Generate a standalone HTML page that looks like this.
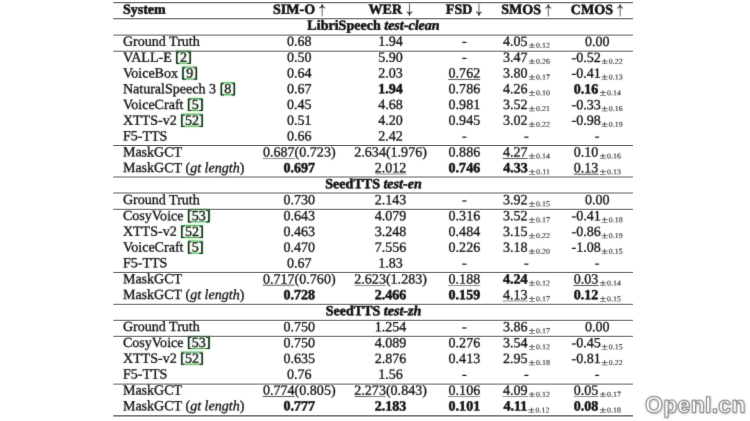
<!DOCTYPE html>
<html><head><meta charset="utf-8"><title>Table</title>
<style>
html,body{margin:0;padding:0;background:#fff;}
body{width:750px;height:421px;overflow:hidden;position:relative;font-family:"Liberation Serif",serif;font-size:14.06px;color:#111;}
#wrap{position:absolute;left:0;top:0;width:750px;height:421px;overflow:hidden;filter:url(#soft);}
.row{position:absolute;left:0;width:750px;transform-origin:375px 0;height:16px;line-height:16px;white-space:nowrap;-webkit-text-stroke:0.3px #111;}
.c{position:absolute;top:0;transform:translateX(-50%);text-align:center;}
.s{position:absolute;top:0;left:122.9px;}
.hdr,.title{font-weight:bold;}
#rules{position:absolute;left:0;top:0;}
.u{position:relative;}
.u::after{content:"";position:absolute;left:0;right:0;top:14px;height:1px;background:#1a1a1a;transform:translateY(0.45px) scaleY(0.62);transform-origin:0 0;}
.pm{display:inline-block;font-size:7.5px;line-height:8px;position:relative;font-weight:normal;margin-left:0.9px;margin-right:1.1px;-webkit-text-stroke:0.1px #222;color:#222;transform:translateY(1.9px) scaleX(1.06);transform-origin:0 50%;}
.pp{display:inline-block;font-size:8.7px;margin-right:2.3px;position:relative;transform:translateY(0.3px) scaleX(1.36);transform-origin:0 50%;}
.ct{position:relative;z-index:0;}
.ct::after{content:"";position:absolute;z-index:-1;left:0.9px;right:0.9px;top:1.9px;height:11.4px;border:1.3px solid #48b056;background:rgba(120,220,130,0.08);box-shadow:0 0 1.6px rgba(90,210,110,0.75),inset 0 0 1.6px rgba(90,210,110,0.6);}
.ar{display:inline-block;width:0.5em;height:0.87em;vertical-align:-0.195em;overflow:visible;}
#wm{position:absolute;left:644.6px;top:391px;line-height:26px;font-family:"Liberation Sans",sans-serif;font-weight:bold;font-size:23px;color:#fff;letter-spacing:0.3px;white-space:nowrap;
 -webkit-text-stroke:1.0px #8a8a8a;text-shadow:0 0 2px rgba(0,0,0,0.45),0.5px 1px 2.5px rgba(0,0,0,0.3);transform:translateY(0.5px) skewY(0.03deg);}
.hdr,.title,.row b{-webkit-text-stroke:0.5px #111;}
</style></head>
<body>
<svg width="0" height="0" style="position:absolute"><defs><filter id="soft" x="0" y="0" width="100%" height="100%" color-interpolation-filters="sRGB"><feConvolveMatrix order="3" kernelMatrix="0.0113 0.0838 0.0113 0.0838 0.6193 0.0838 0.0113 0.0838 0.0113" edgeMode="duplicate" preserveAlpha="false"/></filter></defs></svg>
<div id="wrap">
<div class="row hdr" style="top:0px;transform:translateY(0.80px) skewY(0.03deg)"><span class="s">System</span><span class="c" style="left:299.3px">SIM-O <svg class="ar" viewBox="0 0 50 87" style="transform:translateY(-0.5px)"><path d="M25 2 L25 86.5" fill="none" stroke="#222" stroke-width="5.2" stroke-linecap="butt"/><path d="M25 0 C22 12 15 22 4 27 C14 25 21 22 25 17 C29 22 36 25 46 27 C35 22 28 12 25 0 Z" fill="#111" stroke="#111" stroke-width="3.2" stroke-linejoin="round"/></svg></span><span class="c" style="left:390.6px">WER <svg class="ar" viewBox="0 0 50 87" style="transform:translateY(-1.4px) scaleY(-1)"><path d="M25 2 L25 86.5" fill="none" stroke="#222" stroke-width="5.2" stroke-linecap="butt"/><path d="M25 0 C22 12 15 22 4 27 C14 25 21 22 25 17 C29 22 36 25 46 27 C35 22 28 12 25 0 Z" fill="#111" stroke="#111" stroke-width="3.2" stroke-linejoin="round"/></svg></span><span class="c" style="left:464.4px">FSD <svg class="ar" viewBox="0 0 50 87" style="transform:translateY(-1.4px) scaleY(-1)"><path d="M25 2 L25 86.5" fill="none" stroke="#222" stroke-width="5.2" stroke-linecap="butt"/><path d="M25 0 C22 12 15 22 4 27 C14 25 21 22 25 17 C29 22 36 25 46 27 C35 22 28 12 25 0 Z" fill="#111" stroke="#111" stroke-width="3.2" stroke-linejoin="round"/></svg></span><span class="c" style="left:526.4px">SMOS <svg class="ar" viewBox="0 0 50 87" style="transform:translateY(-0.5px)"><path d="M25 2 L25 86.5" fill="none" stroke="#222" stroke-width="5.2" stroke-linecap="butt"/><path d="M25 0 C22 12 15 22 4 27 C14 25 21 22 25 17 C29 22 36 25 46 27 C35 22 28 12 25 0 Z" fill="#111" stroke="#111" stroke-width="3.2" stroke-linejoin="round"/></svg></span><span class="c" style="left:597.2px">CMOS <svg class="ar" viewBox="0 0 50 87" style="transform:translateY(-0.5px)"><path d="M25 2 L25 86.5" fill="none" stroke="#222" stroke-width="5.2" stroke-linecap="butt"/><path d="M25 0 C22 12 15 22 4 27 C14 25 21 22 25 17 C29 22 36 25 46 27 C35 22 28 12 25 0 Z" fill="#111" stroke="#111" stroke-width="3.2" stroke-linejoin="round"/></svg></span></div>
<div class="row title" style="top:16px;transform:translateY(0.80px) skewY(0.03deg)"><span class="c" style="left:373.5px">LibriSpeech <i>test-clean</i></span></div>
<div class="row" style="top:32px;transform:translateY(0.80px) skewY(0.03deg)"><span class="s">Ground Truth</span><span class="c" style="left:299.3px">0.68</span><span class="c" style="left:390.6px">1.94</span><span class="c" style="left:464.4px">-</span><span class="c" style="left:526.4px">4.05<span class="pm"><span class="pp">±</span>0.12</span></span><span class="c" style="left:597.2px">0.00</span></div>
<div class="row" style="top:48px;transform:translateY(0.80px) skewY(0.03deg)"><span class="s">VALL-E <span class="ct">[2]</span></span><span class="c" style="left:299.3px">0.50</span><span class="c" style="left:390.6px">5.90</span><span class="c" style="left:464.4px">-</span><span class="c" style="left:526.4px">3.47<span class="pm"><span class="pp">±</span>0.26</span></span><span class="c" style="left:597.2px">-0.52<span class="pm"><span class="pp">±</span>0.22</span></span></div>
<div class="row" style="top:64px;transform:translateY(0.54px) skewY(0.03deg)"><span class="s">VoiceBox <span class="ct">[9]</span></span><span class="c" style="left:299.3px">0.64</span><span class="c" style="left:390.6px">2.03</span><span class="c" style="left:464.4px"><span class="u">0.762</span></span><span class="c" style="left:526.4px">3.80<span class="pm"><span class="pp">±</span>0.17</span></span><span class="c" style="left:597.2px">-0.41<span class="pm"><span class="pp">±</span>0.13</span></span></div>
<div class="row" style="top:80px;transform:translateY(0.28px) skewY(0.03deg)"><span class="s">NaturalSpeech 3 <span class="ct">[8]</span></span><span class="c" style="left:299.3px">0.67</span><span class="c" style="left:390.6px"><b>1.94</b></span><span class="c" style="left:464.4px">0.786</span><span class="c" style="left:526.4px">4.26<span class="pm"><span class="pp">±</span>0.10</span></span><span class="c" style="left:597.2px"><b>0.16</b><span class="pm"><span class="pp">±</span>0.14</span></span></div>
<div class="row" style="top:96px;transform:translateY(0.02px) skewY(0.03deg)"><span class="s">VoiceCraft <span class="ct">[5]</span></span><span class="c" style="left:299.3px">0.45</span><span class="c" style="left:390.6px">4.68</span><span class="c" style="left:464.4px">0.981</span><span class="c" style="left:526.4px">3.52<span class="pm"><span class="pp">±</span>0.21</span></span><span class="c" style="left:597.2px">-0.33<span class="pm"><span class="pp">±</span>0.16</span></span></div>
<div class="row" style="top:111px;transform:translateY(0.76px) skewY(0.03deg)"><span class="s">XTTS-v2 <span class="ct">[52]</span></span><span class="c" style="left:299.3px">0.51</span><span class="c" style="left:390.6px">4.20</span><span class="c" style="left:464.4px">0.945</span><span class="c" style="left:526.4px">3.02<span class="pm"><span class="pp">±</span>0.22</span></span><span class="c" style="left:597.2px">-0.98<span class="pm"><span class="pp">±</span>0.19</span></span></div>
<div class="row" style="top:127px;transform:translateY(0.50px) skewY(0.03deg)"><span class="s">F5-TTS</span><span class="c" style="left:299.3px">0.66</span><span class="c" style="left:390.6px">2.42</span><span class="c" style="left:464.4px">-</span><span class="c" style="left:526.4px">-</span><span class="c" style="left:597.2px">-</span></div>
<div class="row" style="top:143px;transform:translateY(0.50px) skewY(0.03deg)"><span class="s">MaskGCT</span><span class="c" style="left:299.3px"><span class="u">0.687</span>(0.723)</span><span class="c" style="left:390.6px">2.634(1.976)</span><span class="c" style="left:464.4px">0.886</span><span class="c" style="left:526.4px"><span class="u">4.27</span><span class="pm"><span class="pp">±</span>0.14</span></span><span class="c" style="left:597.2px">0.10<span class="pm"><span class="pp">±</span>0.16</span></span></div>
<div class="row" style="top:159px;transform:translateY(0.24px) skewY(0.03deg)"><span class="s">MaskGCT (<i>gt length</i>)</span><span class="c" style="left:299.3px"><b>0.697</b></span><span class="c" style="left:390.6px"><span class="u">2.012</span></span><span class="c" style="left:464.4px"><b>0.746</b></span><span class="c" style="left:526.4px"><b>4.33</b><span class="pm"><span class="pp">±</span>0.11</span></span><span class="c" style="left:597.2px"><span class="u">0.13</span><span class="pm"><span class="pp">±</span>0.13</span></span></div>
<div class="row title" style="top:175px;transform:translateY(0.24px) skewY(0.03deg)"><span class="c" style="left:373.5px">SeedTTS <i>test-en</i></span></div>
<div class="row" style="top:191px;transform:translateY(0.24px) skewY(0.03deg)"><span class="s">Ground Truth</span><span class="c" style="left:299.3px">0.730</span><span class="c" style="left:390.6px">2.143</span><span class="c" style="left:464.4px">-</span><span class="c" style="left:526.4px">3.92<span class="pm"><span class="pp">±</span>0.15</span></span><span class="c" style="left:597.2px">0.00</span></div>
<div class="row" style="top:207px;transform:translateY(0.24px) skewY(0.03deg)"><span class="s">CosyVoice <span class="ct">[53]</span></span><span class="c" style="left:299.3px">0.643</span><span class="c" style="left:390.6px">4.079</span><span class="c" style="left:464.4px">0.316</span><span class="c" style="left:526.4px">3.52<span class="pm"><span class="pp">±</span>0.17</span></span><span class="c" style="left:597.2px">-0.41<span class="pm"><span class="pp">±</span>0.18</span></span></div>
<div class="row" style="top:222px;transform:translateY(0.98px) skewY(0.03deg)"><span class="s">XTTS-v2 <span class="ct">[52]</span></span><span class="c" style="left:299.3px">0.463</span><span class="c" style="left:390.6px">3.248</span><span class="c" style="left:464.4px">0.484</span><span class="c" style="left:526.4px">3.15<span class="pm"><span class="pp">±</span>0.22</span></span><span class="c" style="left:597.2px">-0.86<span class="pm"><span class="pp">±</span>0.19</span></span></div>
<div class="row" style="top:238px;transform:translateY(0.72px) skewY(0.03deg)"><span class="s">VoiceCraft <span class="ct">[5]</span></span><span class="c" style="left:299.3px">0.470</span><span class="c" style="left:390.6px">7.556</span><span class="c" style="left:464.4px">0.226</span><span class="c" style="left:526.4px">3.18<span class="pm"><span class="pp">±</span>0.20</span></span><span class="c" style="left:597.2px">-1.08<span class="pm"><span class="pp">±</span>0.15</span></span></div>
<div class="row" style="top:254px;transform:translateY(0.46px) skewY(0.03deg)"><span class="s">F5-TTS</span><span class="c" style="left:299.3px">0.67</span><span class="c" style="left:390.6px">1.83</span><span class="c" style="left:464.4px">-</span><span class="c" style="left:526.4px">-</span><span class="c" style="left:597.2px">-</span></div>
<div class="row" style="top:270px;transform:translateY(0.46px) skewY(0.03deg)"><span class="s">MaskGCT</span><span class="c" style="left:299.3px"><span class="u">0.717</span>(0.760)</span><span class="c" style="left:390.6px"><span class="u">2.623</span>(1.283)</span><span class="c" style="left:464.4px"><span class="u">0.188</span></span><span class="c" style="left:526.4px"><b>4.24</b><span class="pm"><span class="pp">±</span>0.12</span></span><span class="c" style="left:597.2px"><span class="u">0.03</span><span class="pm"><span class="pp">±</span>0.14</span></span></div>
<div class="row" style="top:286px;transform:translateY(0.20px) skewY(0.03deg)"><span class="s">MaskGCT (<i>gt length</i>)</span><span class="c" style="left:299.3px"><b>0.728</b></span><span class="c" style="left:390.6px"><b>2.466</b></span><span class="c" style="left:464.4px"><b>0.159</b></span><span class="c" style="left:526.4px"><span class="u">4.13</span><span class="pm"><span class="pp">±</span>0.17</span></span><span class="c" style="left:597.2px"><b>0.12</b><span class="pm"><span class="pp">±</span>0.15</span></span></div>
<div class="row title" style="top:302px;transform:translateY(0.20px) skewY(0.03deg)"><span class="c" style="left:373.5px">SeedTTS <i>test-zh</i></span></div>
<div class="row" style="top:318px;transform:translateY(0.20px) skewY(0.03deg)"><span class="s">Ground Truth</span><span class="c" style="left:299.3px">0.750</span><span class="c" style="left:390.6px">1.254</span><span class="c" style="left:464.4px">-</span><span class="c" style="left:526.4px">3.86<span class="pm"><span class="pp">±</span>0.17</span></span><span class="c" style="left:597.2px">0.00</span></div>
<div class="row" style="top:334px;transform:translateY(0.20px) skewY(0.03deg)"><span class="s">CosyVoice <span class="ct">[53]</span></span><span class="c" style="left:299.3px">0.750</span><span class="c" style="left:390.6px">4.089</span><span class="c" style="left:464.4px">0.276</span><span class="c" style="left:526.4px">3.54<span class="pm"><span class="pp">±</span>0.12</span></span><span class="c" style="left:597.2px">-0.45<span class="pm"><span class="pp">±</span>0.15</span></span></div>
<div class="row" style="top:349px;transform:translateY(0.94px) skewY(0.03deg)"><span class="s">XTTS-v2 <span class="ct">[52]</span></span><span class="c" style="left:299.3px">0.635</span><span class="c" style="left:390.6px">2.876</span><span class="c" style="left:464.4px">0.413</span><span class="c" style="left:526.4px">2.95<span class="pm"><span class="pp">±</span>0.18</span></span><span class="c" style="left:597.2px">-0.81<span class="pm"><span class="pp">±</span>0.22</span></span></div>
<div class="row" style="top:365px;transform:translateY(0.68px) skewY(0.03deg)"><span class="s">F5-TTS</span><span class="c" style="left:299.3px">0.76</span><span class="c" style="left:390.6px">1.56</span><span class="c" style="left:464.4px">-</span><span class="c" style="left:526.4px">-</span><span class="c" style="left:597.2px">-</span></div>
<div class="row" style="top:381px;transform:translateY(0.68px) skewY(0.03deg)"><span class="s">MaskGCT</span><span class="c" style="left:299.3px"><span class="u">0.774</span>(0.805)</span><span class="c" style="left:390.6px"><span class="u">2.273</span>(0.843)</span><span class="c" style="left:464.4px"><span class="u">0.106</span></span><span class="c" style="left:526.4px"><span class="u">4.09</span><span class="pm"><span class="pp">±</span>0.12</span></span><span class="c" style="left:597.2px"><span class="u">0.05</span><span class="pm"><span class="pp">±</span>0.17</span></span></div>
<div class="row" style="top:397px;transform:translateY(0.42px) skewY(0.03deg)"><span class="s">MaskGCT (<i>gt length</i>)</span><span class="c" style="left:299.3px"><b>0.777</b></span><span class="c" style="left:390.6px"><b>2.183</b></span><span class="c" style="left:464.4px"><b>0.101</b></span><span class="c" style="left:526.4px"><b>4.11</b><span class="pm"><span class="pp">±</span>0.12</span></span><span class="c" style="left:597.2px"><b>0.08</b><span class="pm"><span class="pp">±</span>0.18</span></span></div>
<div id="wm">OpenI.cn</div>
</div>
<svg id="rules" width="750" height="421" viewBox="0 0 750 421"><line x1="113.3" x2="633.0" y1="2.7" y2="2.7" stroke="#505050" stroke-width="1.0"/><line x1="113.3" x2="633.0" y1="18.8" y2="18.8" stroke="#505050" stroke-width="1.1"/><line x1="113.3" x2="633.0" y1="35.1" y2="35.1" stroke="#505050" stroke-width="0.9"/><line x1="113.3" x2="633.0" y1="51.2" y2="51.2" stroke="#505050" stroke-width="0.9"/><line x1="113.3" x2="633.0" y1="145.5" y2="145.5" stroke="#505050" stroke-width="0.9"/><line x1="113.3" x2="633.0" y1="177.0" y2="177.0" stroke="#505050" stroke-width="0.9"/><line x1="113.3" x2="633.0" y1="193.0" y2="193.0" stroke="#505050" stroke-width="0.9"/><line x1="113.3" x2="633.0" y1="209.3" y2="209.3" stroke="#505050" stroke-width="0.9"/><line x1="113.3" x2="633.0" y1="272.4" y2="272.4" stroke="#505050" stroke-width="0.9"/><line x1="113.3" x2="633.0" y1="304.3" y2="304.3" stroke="#505050" stroke-width="0.9"/><line x1="113.3" x2="633.0" y1="320.3" y2="320.3" stroke="#505050" stroke-width="0.9"/><line x1="113.3" x2="633.0" y1="336.3" y2="336.3" stroke="#505050" stroke-width="0.9"/><line x1="113.3" x2="633.0" y1="384.1" y2="384.1" stroke="#505050" stroke-width="0.9"/><line x1="113.3" x2="633.0" y1="415.9" y2="415.9" stroke="#505050" stroke-width="1.1"/></svg>
</body></html>
